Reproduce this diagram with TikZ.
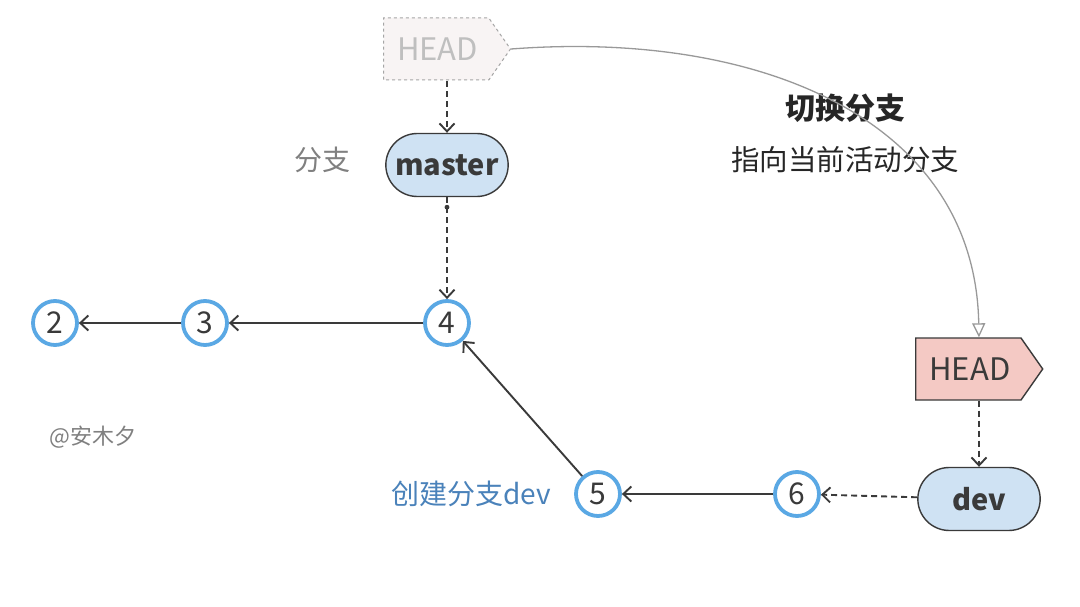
\documentclass[tikz,border=0pt]{standalone}
\usepackage{fontspec}
\setmainfont{Noto Sans CJK SC}
\usetikzlibrary{arrows.meta,shapes.symbols,shapes.misc}
\definecolor{cblue}{HTML}{5AA8E4}
\definecolor{nfill}{HTML}{CFE2F3}
\definecolor{hfill}{HTML}{F4C9C4}
\definecolor{ghostfill}{HTML}{F8F4F4}
\definecolor{dk}{HTML}{3A3A3A}
\definecolor{lbl}{HTML}{4A82BA}
\tikzset{
  commit/.style={circle,draw=cblue,line width=3.8pt,fill=white,minimum size=44pt,inner sep=0pt,font=\fontsize{30}{30}\selectfont,text=dk},
  branch/.style={rounded rectangle,draw=dk,line width=1.4pt,fill=nfill,minimum width=129pt,minimum height=63pt,font=\fontsize{29}{29}\selectfont\bfseries,text=dk},
  headtag/.style={signal,signal to=east,signal pointer angle=110,draw=dk,line width=1.4pt,fill=hfill,minimum width=127pt,minimum height=62pt,inner sep=0pt,font=\fontsize{31}{31}\selectfont,text=dk},
  arr/.style={draw=dk,line width=1.9pt,-{Straight Barb[length=8pt,width=15pt,line width=1.9pt]}},
  darr/.style={arr,dash pattern=on 6pt off 4pt},
  lab/.style={font=\fontsize{28}{28}\selectfont,text=dk!80}
}
\begin{document}
\begin{tikzpicture}[x=1pt,y=-1pt]
\useasboundingbox[fill=white] (0,0) rectangle (1080,607);
% ghost HEAD
\node[headtag,draw=gray!70,fill=ghostfill,dashed,line width=1pt,text=gray!50,anchor=west] (ghead) at (383,49) {\hspace*{13pt}HEAD\hspace*{10pt}};
\node[branch] (master) at (447,165) {master};
\node[lab,text=gray] (fz) at (322,160) {分支};
\node[commit] (c2) at (55,323) {2};
\node[commit] (c3) at (205,323) {3};
\node[commit] (c4) at (447,323) {4};
\node[commit] (c5) at (598,494) {5};
\node[commit] (c6) at (797,494) {6};
\node[headtag,anchor=west] (head) at (915,369) {\hspace*{13pt}HEAD\hspace*{10pt}};
\node[branch] (dev) at (979,499) {dev};
\node[font=\fontsize{30}{30}\selectfont\bfseries,text=black!85] (qh) at (845,108) {切换分支};
\node[font=\fontsize{28.5}{28.5}\selectfont,text=black!85] (zx) at (845,160) {指向当前活动分支};
\node[font=\fontsize{22}{22}\selectfont,text=gray] (wm) at (93,437) {@安木夕};
\node[font=\fontsize{28}{28}\selectfont,text=lbl] (cj) at (471,494) {创建分支dev};
% connectors
\draw[darr] (ghead.south -| master.north) ++(0,1) coordinate (g1) -- (master.north);
\draw[darr] (master.south) -- (c4.north);
\fill[dk] (master.south) ++(0,10) circle (2.4pt);
\draw[arr] (c3) -- (c2);
\draw[arr] (c4) -- (c3);
\draw[arr] (c5) -- (c4);
\draw[arr] (c6) -- (c5);
\draw[darr] (dev) -- (c6);
\draw[darr] (head.south -| dev.north) -- (dev.north);
\draw[gray!80,line width=1.3pt,-{Triangle[open,length=14pt,width=13pt,line width=1.3pt]}]
  (ghead.east) .. controls (760,30) and (975,120) .. (head.north -| 979,0);
\end{tikzpicture}
\end{document}
